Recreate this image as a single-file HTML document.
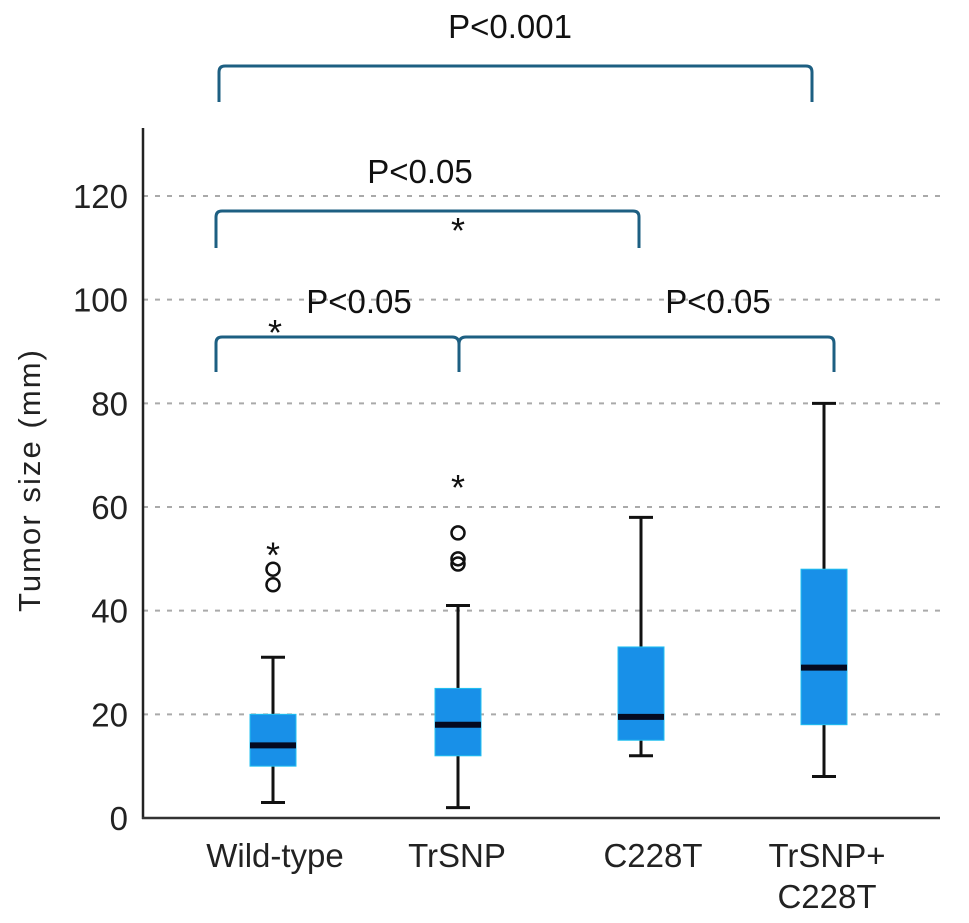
<!DOCTYPE html>
<html><head><meta charset="utf-8"><style>
html,body{margin:0;padding:0;background:#fff;}
svg{display:block;font-family:"Liberation Sans",Arial,sans-serif;}
</style></head><body>
<svg id="chart" width="969" height="923" viewBox="0 0 969 923">
<g id="grid"></g>
<g id="axes"></g>
<g id="boxes"></g>
<g id="sig"></g>
<text x="40" y="481" font-size="31" text-anchor="middle" textLength="262" transform="rotate(-90 40 481)" fill="#222">Tumor size (mm)</text>
</svg>
<script>
const categories = ["Wild-type", "TrSNP", "C228T", "TrSNP+C228T"];
const whiskerLow = [3, 2, 12, 8];
const q1 = [10, 12, 15, 18];
const medians = [14, 18, 19.5, 29];
const q3 = [20, 25, 33, 48];
const whiskerHigh = [31, 41, 58, 80];
const outlierCircles = [[45, 48], [49, 50, 55], [], []];
const outlierStars = [[52], [65], [], []];
const yTicks = [0, 20, 40, 60, 80, 100, 120];

const NS = "http://www.w3.org/2000/svg";
const X0 = 143, X1 = 940, Y0 = 818, PX20 = 103.67;
const centers = [273, 458, 641, 824];
const labelCenters = [275, 457, 653, 827];
function yScale(v){ return Y0 - v * PX20 / 20; }
function xScale(i){ return centers[i]; }
function mk(tag, attrs, parent){
  const el = document.createElementNS(NS, tag);
  for (const k in attrs) el.setAttribute(k, attrs[k]);
  parent.appendChild(el); return el;
}
const grid = document.getElementById("grid");
const axes = document.getElementById("axes");
const boxes = document.getElementById("boxes");
const sig = document.getElementById("sig");

yTicks.forEach(t => {
  const y = yScale(t);
  if (t > 0) {
    const l = mk("line", {x1: X0, x2: X1, y1: y, y2: y, stroke: "#aaa", "stroke-width": 2, "stroke-dasharray": "5 7"}, grid);
    
    
  }
  const tx = mk("text", {x: 128, y: y + 12, "font-size": 33, "text-anchor": "end", fill: "#222"}, axes);
  tx.textContent = t;
  
  
});
const ya = mk("line", {x1: X0, x2: X0, y1: 128, y2: Y0 + 1, stroke: "#222", "stroke-width": 2.5}, axes);


const xa = mk("line", {x1: X0 - 1, x2: X1, y1: Y0, y2: Y0, stroke: "#333", "stroke-width": 2.5}, axes);



categories.forEach((c, i) => {
  const cx = xScale(i);
  const w = mk("line", {x1: cx, x2: cx, y1: yScale(whiskerLow[i]), y2: yScale(whiskerHigh[i]), stroke: "#111", "stroke-width": 3}, boxes);
  
  
  [whiskerLow[i], whiskerHigh[i]].forEach((v, k) => {
    const cap = mk("line", {x1: cx - 12, x2: cx + 12, y1: yScale(v), y2: yScale(v), stroke: "#111", "stroke-width": 3}, boxes);
    
    
  });
  const b = mk("rect", {x: cx - 23, y: yScale(q3[i]), width: 46, height: yScale(q1[i]) - yScale(q3[i]), fill: "#1890e8", stroke: "#22c0f0", "stroke-width": 1}, boxes);
  
  
  const m = mk("line", {x1: cx - 23, x2: cx + 23, y1: yScale(medians[i]), y2: yScale(medians[i]), stroke: "#050a20", "stroke-width": 6}, boxes);
  
  
  outlierCircles[i].forEach(v => {
    const o = mk("circle", {cx: cx, cy: yScale(v), r: 6.5, fill: "none", stroke: "#111", "stroke-width": 2.5}, boxes);
    
    
  });
  outlierStars[i].forEach(v => {
    const s = mk("text", {x: cx, y: yScale(v) + 19, "font-size": 36, "text-anchor": "middle", fill: "#111"}, boxes);
    s.textContent = "*";
    
    
  });
  const lines = c === "TrSNP+C228T" ? ["TrSNP+", "C228T"] : [c];
  lines.forEach((ln, k) => {
    const t = mk("text", {x: labelCenters[i], y: 867 + k * 41, "font-size": 33, "text-anchor": "middle", fill: "#222"}, axes);
    t.textContent = ln;
    
    
  });
});

function bracket(pts, name){
  const p = mk("path", {d: pts, fill: "none", stroke: "#1d5f82", "stroke-width": 3}, sig);
  
  
}
function label(x, y, txt, size, name){
  const t = mk("text", {x: x, y: y, "font-size": size, "text-anchor": "middle", fill: "#111"}, sig);
  t.textContent = txt;
  
  
}
bracket("M219 102 L219 72 Q219 66 225 66 L806 66 Q812 66 812 72 L812 102", "bracket-wt-vs-combo");
label(510, 38, "P<0.001", 33, "p-label-wt-vs-combo");
bracket("M216 248 L216 217 Q216 211 222 211 L633 211 Q639 211 639 217 L639 248", "bracket-wt-vs-c228t");
label(420, 183, "P<0.05", 33, "p-label-wt-vs-c228t");
label(458, 243, "*", 36, "star-wt-vs-c228t");
bracket("M216 372 L216 343 Q216 337 222 337 L452 337 Q459 337 459 344 L459 372 M459 372 L459 344 Q459 337 466 337 L828 337 Q834 337 834 343 L834 372", "bracket-lower");
label(359, 313, "P<0.05", 33, "p-label-wt-vs-trsnp");
label(275, 345, "*", 36, "star-wt-vs-trsnp");
label(718, 313, "P<0.05", 33, "p-label-trsnp-vs-combo");
</script>
</body></html>
